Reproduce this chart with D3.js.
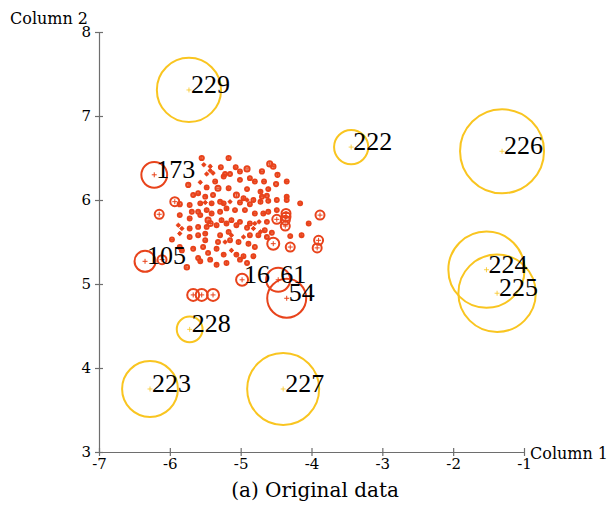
<!DOCTYPE html>
<html>
<head>
<meta charset="utf-8">
<script src="https://cdn.jsdelivr.net/npm/d3@7"></script>
<style>
  body { margin: 0; background: #fff; }
  text { font-family: "DejaVu Serif", serif; }
</style>
</head>
<body>
<svg></svg>
<script>
let width = 615,
    height = 508;

// inlier cloud: Column 1, Column 2, outlier score
let clusterX = [-5.55, -5.17, -5.43, -5.52, -5.28, -5.07, -4.91, -5.01, -4.59, -4.54, -4.70, -4.48, -5.22, -5.15, -5.43, -5.39, -5.48, -5.36, -5.24, -5.01,
    -4.87, -4.80, -4.67, -4.50, -4.35, -5.74, -5.57, -5.48, -5.32, -5.17, -4.91, -4.72, -4.61, -5.67, -5.60, -5.50, -5.39, -5.06, -4.96, -4.82,
    -4.70, -4.63, -4.49, -4.35, -4.35, -5.93, -5.86, -5.72, -5.57, -5.50, -5.41, -5.29, -5.24, -5.15, -5.01, -4.91, -4.87, -4.72, -4.61, -5.69,
    -5.60, -5.48, -5.41, -5.29, -5.20, -5.08, -4.94, -4.80, -4.68, -4.61, -4.49, -4.36, -4.36, -4.16, -6.15, -5.86, -5.72, -5.57, -5.46, -5.43,
    -5.27, -5.13, -5.01, -4.87, -4.80, -4.74, -4.63, -4.49, -4.37, -4.37, -4.04, -3.88, -5.88, -5.83, -5.72, -5.60, -5.48, -5.34, -5.20, -5.06,
    -4.91, -4.82, -4.72, -4.66, -4.56, -4.30, -4.14, -5.86, -5.72, -5.60, -5.50, -5.29, -5.17, -5.13, -4.96, -4.87, -4.75, -4.63, -5.97, -5.50,
    -5.32, -5.22, -5.15, -5.03, -4.89, -4.80, -4.54, -4.30, -3.90, -3.92, -5.86, -5.83, -5.67, -5.53, -5.34, -5.46, -5.24, -5.13, -5.06, -4.96,
    -4.82, -5.60, -5.57, -5.43, -5.34, -5.20, -5.01, -4.91, -5.76, -6.11, -5.67, -5.55, -5.39];
let clusterY = [6.50, 6.50, 6.40, 6.42, 6.39, 6.39, 6.37, 6.34, 6.43, 6.40, 6.34, 6.30, 6.31, 6.31, 6.35, 6.32, 6.31, 6.22, 6.28, 6.24,
    6.26, 6.22, 6.22, 6.19, 6.22, 6.18, 6.21, 6.15, 6.14, 6.14, 6.13, 6.10, 6.13, 6.06, 6.08, 6.04, 6.06, 6.06, 6.02, 6.00,
    6.04, 6.05, 6.00, 6.04, 6.00, 5.98, 5.95, 5.94, 5.96, 5.97, 5.96, 5.98, 5.96, 5.98, 5.97, 6.00, 5.95, 5.98, 5.99, 5.86,
    5.86, 5.88, 5.84, 5.86, 5.90, 5.88, 5.88, 5.84, 5.84, 5.86, 5.88, 5.84, 5.80, 5.96, 5.83, 5.82, 5.78, 5.82, 5.76, 5.72,
    5.76, 5.76, 5.74, 5.72, 5.72, 5.74, 5.74, 5.77, 5.76, 5.69, 5.72, 5.82, 5.70, 5.66, 5.66, 5.68, 5.68, 5.70, 5.72, 5.70,
    5.67, 5.66, 5.62, 5.64, 5.61, 5.57, 5.58, 5.60, 5.56, 5.58, 5.60, 5.58, 5.62, 5.58, 5.56, 5.58, 5.58, 5.56, 5.53, 5.52,
    5.50, 5.50, 5.52, 5.50, 5.48, 5.44, 5.48, 5.44, 5.52, 5.43, 5.44, 5.40, 5.42, 5.44, 5.42, 5.37, 5.35, 5.40, 5.35, 5.33,
    5.33, 5.31, 5.27, 5.29, 5.23, 5.25, 5.29, 5.25, 5.20, 5.29, 4.87, 4.87, 4.87];
let clusterScore = [0.7, 0.7, 0.35, 0.35, 0.65, 0.65, 0.85, 0.65, 0.85, 0.75, 0.7, 0.7, 0.65, 0.65, 0.35, 0.35, 0.35, 0.65, 0.65, 0.65,
    0.65, 0.65, 0.65, 0.7, 0.65, 0.7, 0.35, 0.65, 0.85, 0.65, 0.65, 0.65, 0.65, 0.65, 0.65, 0.65, 0.65, 0.85, 0.65, 0.65,
    0.65, 0.65, 0.65, 0.65, 0.65, 1.5, 0.7, 0.65, 0.65, 0.35, 0.65, 0.65, 0.65, 0.35, 0.65, 0.35, 0.65, 0.65, 0.65, 0.65,
    0.65, 0.65, 0.65, 0.65, 0.65, 0.65, 0.65, 0.65, 0.65, 0.65, 0.65, 1.5, 1.5, 0.65, 1.5, 0.65, 0.65, 0.65, 0.85, 0.85,
    0.65, 0.65, 0.65, 0.65, 0.35, 0.35, 0.65, 1.5, 1.5, 1.5, 0.65, 1.5, 0.35, 0.35, 0.65, 0.65, 0.65, 0.65, 0.65, 0.65,
    0.65, 0.35, 0.35, 0.65, 0.65, 0.65, 0.65, 0.35, 0.65, 0.65, 0.65, 0.65, 0.65, 0.35, 0.35, 0.65, 0.65, 0.65, 0.65, 0.65,
    0.65, 0.35, 0.65, 0.65, 0.65, 0.65, 2.0, 1.5, 1.5, 1.5, 0.65, 0.65, 0.65, 0.65, 0.65, 0.65, 0.65, 0.35, 0.65, 0.65,
    0.65, 0.65, 0.65, 0.65, 0.65, 0.65, 0.65, 0.65, 0.75, 1.5, 2.0, 2.0, 2.0];

// labelled points
let outlierIds = ["173", "105", "16", "61", "54", "229", "222", "226", "224", "225", "228", "223", "227"];
let outlierX = [-6.22, -6.35, -4.98, -4.47, -4.35, -5.73, -3.44, -1.31, -1.53, -1.38, -5.72, -6.28, -4.40];
let outlierY = [6.30, 5.27, 5.05, 5.05, 4.83, 7.31, 6.63, 6.58, 5.17, 4.89, 4.46, 3.75, 3.75];
let outlierScore = [4.3, 3.5, 2.0, 4.0, 6.5, 10.7, 5.7, 14.0, 12.7, 12.9, 4.3, 9.3, 12.0];
let outlierGroup = ["red", "red", "red", "red", "red", "yellow", "yellow", "yellow", "yellow", "yellow", "yellow", "yellow", "yellow"];

let xTicks = [-7, -6, -5, -4, -3, -2, -1];
let yTicks = [3, 4, 5, 6, 7, 8];

let svg = d3.select("svg")
    .attr("width", width)
    .attr("height", height);

let x = d3.scaleLinear().domain([-7, -1]).range([99, 524]);
let y = d3.scaleLinear().domain([3, 8]).range([452, 32]);
let r = d3.scaleLinear().domain([0, 1]).range([0, 3]);
let colors = { red: "#e8431b", yellow: "#f9c520" };

let points = clusterX.map((d, i) => ({ x: d, y: clusterY[i], s: clusterScore[i], g: "red", id: null }))
    .concat(outlierX.map((d, i) => ({ x: d, y: outlierY[i], s: outlierScore[i], g: outlierGroup[i], id: outlierIds[i] })));

// axes
let xAxis = svg.append("g")
    .attr("transform", "translate(0," + y(3) + ")")
    .call(d3.axisBottom(x).tickValues(xTicks).tickSizeOuter(0).tickSizeInner(4).tickFormat(d => String(d)));
xAxis.selectAll(".tick line").attr("y1", -4).attr("y2", 4);

let yAxis = svg.append("g")
    .attr("transform", "translate(" + x(-7) + ",0)")
    .call(d3.axisLeft(y).tickValues(yTicks).tickSizeOuter(0).tickSizeInner(4).tickFormat(d => String(d)));
yAxis.selectAll(".tick line").attr("x1", -4).attr("x2", 4);

svg.selectAll(".domain, .tick line").attr("stroke", "#6e6e6e").attr("stroke-width", 1.2);
svg.selectAll(".tick text").attr("fill", "#000").style("font-size", "15px").style("font-family", "DejaVu Serif");
xAxis.selectAll(".tick text").attr("y", 6);
yAxis.selectAll(".tick text").attr("x", -8);

// circles sized by score, plus marks at each point
let marks = svg.append("g");
marks.selectAll("circle")
    .data(points)
    .enter()
    .append("circle")
    .attr("cx", d => x(d.x))
    .attr("cy", d => y(d.y))
    .attr("r", d => r(d.s))
    .attr("fill", "none")
    .attr("stroke", d => colors[d.g])
    .attr("stroke-width", 2);

marks.selectAll("path")
    .data(points)
    .enter()
    .append("path")
    .attr("d", d => "M" + (x(d.x) - 2.5) + "," + y(d.y) + "h5M" + x(d.x) + "," + (y(d.y) - 2.5) + "v5")
    .attr("stroke", d => colors[d.g])
    .attr("stroke-opacity", d => d.g == "yellow" ? 0.8 : 1)
    .attr("stroke-width", 1);

// ids next to the outliers
svg.append("g")
    .selectAll("text")
    .data(points.filter(d => d.id))
    .enter()
    .append("text")
    .attr("x", d => x(d.x) + 2)
    .attr("y", d => y(d.y) - 3)
    .attr("dominant-baseline", "middle")
    .style("font-family", "Liberation Serif")
    .style("font-size", "26px")
    .text(d => d.id);

svg.append("text")
    .attr("x", 10)
    .attr("y", 24)
    .style("font-size", "16px")
    .text("Column 2");

svg.append("text")
    .attr("x", 530)
    .attr("y", 459)
    .style("font-size", "16px")
    .text("Column 1");

svg.append("text")
    .attr("x", 315)
    .attr("y", 497)
    .attr("text-anchor", "middle")
    .style("font-size", "20px")
    .text("(a) Original data");
</script>
</body>
</html>
